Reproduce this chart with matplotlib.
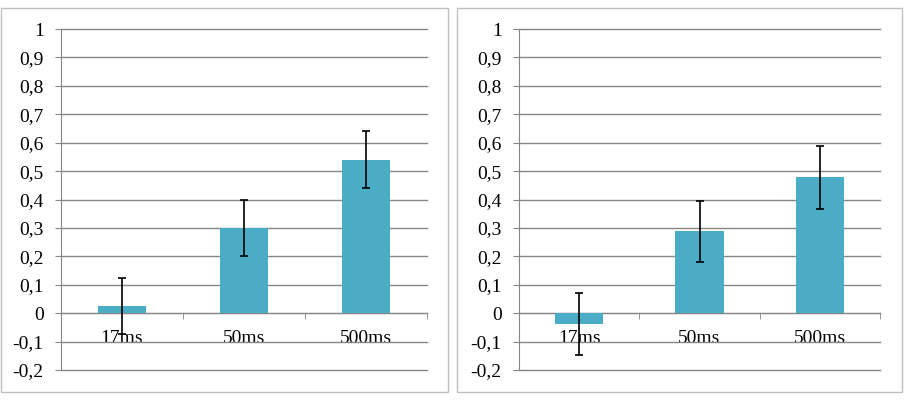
import matplotlib
matplotlib.use("Agg")
import matplotlib.pyplot as plt
from matplotlib.patches import Rectangle
from matplotlib.ticker import FuncFormatter

# data
categories = ["17ms", "50ms", "500ms"]
left_values = [0.025, 0.30, 0.54]
left_errors = [0.10, 0.10, 0.10]
right_values = [-0.038, 0.288, 0.478]
right_errors = [0.108, 0.108, 0.110]
y_ticks = [-0.2, -0.1, 0, 0.1, 0.2, 0.3, 0.4, 0.5, 0.6, 0.7, 0.8, 0.9, 1]

BAR_COLOR = "#4BACC6"
GRID_COLOR = "#868686"

plt.rcParams["font.family"] = ["Liberation Serif", "DejaVu Serif"]


def comma_fmt(v, pos):
    if abs(v) < 1e-9:
        return "0"
    if abs(v - round(v)) < 1e-9:
        return f"{int(round(v))}"
    return f"{v:.1f}".replace(".", ",")


def draw_panel(ax, values, errors):
    x = list(range(len(categories)))
    ax.bar(x, values, width=0.4, color=BAR_COLOR, zorder=2)
    ax.errorbar(x, values, yerr=errors, fmt="none", ecolor="black",
                elinewidth=1.2, capsize=3, capthick=1.2, zorder=5)
    ax.set_xlim(-0.5, len(categories) - 0.5)
    ax.set_ylim(-0.2, 1.0)
    ax.set_yticks(y_ticks)
    ax.yaxis.set_major_formatter(FuncFormatter(comma_fmt))
    ax.grid(axis="y", color=GRID_COLOR, linewidth=1, zorder=0)
    ax.set_axisbelow(True)
    # keep the top/bottom gridlines fully visible at the axes edges
    for line in ax.get_ygridlines():
        line.set_clip_on(False)

    for side in ["top", "right"]:
        ax.spines[side].set_visible(False)
    ax.spines["left"].set_color(GRID_COLOR)
    ax.spines["bottom"].set_color(GRID_COLOR)
    ax.spines["bottom"].set_position(("data", 0))
    ax.spines["bottom"].set_zorder(1)

    ax.set_xticks(x)
    ax.set_xticklabels(categories)
    ax.set_xticks([i - 0.5 for i in range(len(categories) + 1)], minor=True)
    ax.tick_params(axis="x", which="major", length=0, pad=12, labelsize=14)
    ax.tick_params(axis="x", which="minor", length=4, color=GRID_COLOR, direction="out")
    ax.tick_params(axis="y", length=4.5, color=GRID_COLOR, pad=8, labelsize=14)


fig = plt.figure(figsize=(9.09, 4.08), dpi=100)

# outer frames around each chart
fig.patches.append(Rectangle((0.0015, 0.039), 0.4915, 0.941, transform=fig.transFigure,
                             fill=False, edgecolor="#BFBFBF", linewidth=1))
fig.patches.append(Rectangle((0.5028, 0.039), 0.4895, 0.941, transform=fig.transFigure,
                             fill=False, edgecolor="#BFBFBF", linewidth=1))

ax1 = fig.add_axes([0.0671, 0.0931, 0.4026, 0.8358])
ax2 = fig.add_axes([0.5710, 0.0931, 0.3971, 0.8358])

draw_panel(ax1, left_values, left_errors)
draw_panel(ax2, right_values, right_errors)

fig.savefig("out.png", dpi=100)
